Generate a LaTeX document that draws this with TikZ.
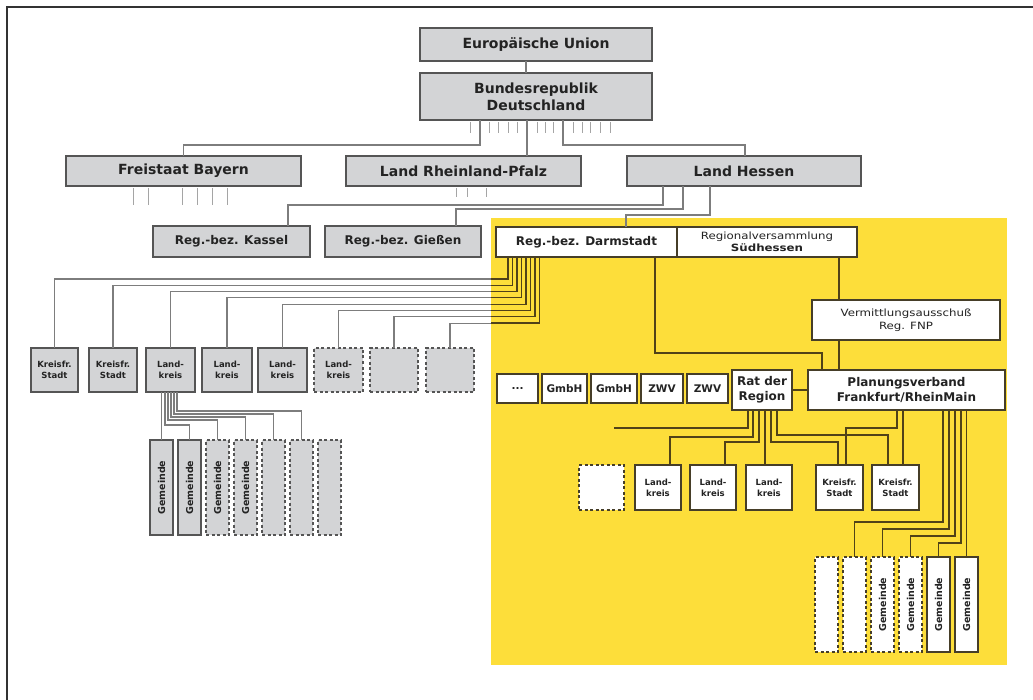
\documentclass[tikz,border=0pt]{standalone}
\usepackage{fontspec}
\usepackage{graphicx}
\setmainfont{DejaVu Sans}
\newfontfamily\wfont[FakeStretch=1.18]{DejaVu Sans}
\usetikzlibrary{shadows}
\definecolor{ylw}{RGB}{253,222,58}
\definecolor{boxgray}{RGB}{211,212,214}
\definecolor{edgegray}{RGB}{85,85,85}
\definecolor{lgray}{RGB}{125,125,125}
\definecolor{tickgray}{RGB}{165,165,165}
\definecolor{dline}{RGB}{80,66,24}
\definecolor{wedge}{RGB}{70,62,40}
\definecolor{txt}{RGB}{35,35,35}
\newcommand\bx[7]{\node[#6, minimum width={#4-#2}, minimum height={#5-#3}] (#1) at ({(#2+#4)/2},{(#3+#5)/2}) {#7};}
\tikzset{
  basebox/.style={inner sep=0pt, outer sep=0pt, align=center, text=txt},
  gbox/.style={basebox, draw=edgegray, fill=boxgray, line width=1.1pt,
    drop shadow={shadow xshift=1.3pt, shadow yshift=-1.3pt, fill=black!60, opacity=0.8}},
  gdash/.style={basebox, draw=edgegray, fill=boxgray, line width=1.1pt, dash pattern=on 3pt off 2.5pt},
  wbox/.style={basebox, draw=wedge, fill=white, line width=1.3pt,
    drop shadow={shadow xshift=1.2pt, shadow yshift=-1.2pt, fill=black!55, opacity=0.6}},
  wdash/.style={basebox, draw=wedge, fill=white, line width=1.3pt, dash pattern=on 3pt off 2.5pt},
  fbig/.style={font=\bfseries\fontsize{14}{17}\selectfont},
  fmid/.style={font=\bfseries\fontsize{12}{15}\selectfont},
  fgm/.style={font=\bfseries\fontsize{10.5}{12}\selectfont},
  fsm/.style={font=\bfseries\fontsize{8.5}{11}\selectfont},
  fgem/.style={font=\bfseries\fontsize{9.5}{11}\selectfont},
  fwide/.style={font=\wfont\fontsize{10}{13}\selectfont},
  gl/.style={draw=lgray, line width=1.1pt},
  tk/.style={draw=tickgray, line width=1pt},
  dl/.style={draw=dline, line width=1.5pt},
}
\begin{document}
\begin{tikzpicture}[x=1pt,y=-1pt]
\useasboundingbox (0,0) rectangle (1033,700);
% yellow region
\fill[ylw] (491,218) rectangle (1007,665);
% frame
\draw[line width=2pt, black!80] (7,700) -- (7,7) -- (1033,7);

% top level boxes
\bx{eu}{420}{28}{652}{61}{gbox,fbig}{Europäische Union}
\bx{brd}{420}{73}{652}{120}{gbox,fbig}{Bundesrepublik\\Deutschland}
\bx{bay}{66}{156}{301}{186}{gbox,fbig}{Freistaat Bayern}
\bx{rlp}{346}{156}{581}{186}{gbox,fbig}{Land Rheinland-Pfalz}
\bx{hes}{627}{156}{861}{186}{gbox,fbig}{Land Hessen}
\bx{kas}{153}{226}{310}{257}{gbox,fmid}{Reg.-bez. Kassel}
\bx{gie}{325}{226}{481}{257}{gbox,fmid}{Reg.-bez. Gießen}
\bx{dar}{496}{227}{677}{257}{wbox,fmid}{Reg.-bez. Darmstadt}
\bx{rvs}{677}{227}{857}{257}{wbox,font=\wfont\fontsize{10}{12}\selectfont}{Regionalversammlung\\{\bfseries Südhessen}}
\bx{vma}{812}{300}{1000}{340}{wbox,fwide}{Vermittlungsausschuß\\Reg. FNP}

% yellow row
\bx{dots}{497}{374}{538}{403}{wbox,fgm}{...}
\bx{g1}{542}{374}{587}{403}{wbox,fgm}{GmbH}
\bx{g2}{591}{374}{637}{403}{wbox,fgm}{GmbH}
\bx{z1}{641}{374}{683}{403}{wbox,fgm}{ZWV}
\bx{z2}{687}{374}{728}{403}{wbox,fgm}{ZWV}
\bx{rat}{732}{370}{792}{410}{wbox,fmid}{Rat der\\Region}
\bx{plv}{808}{370}{1005}{410}{wbox,fmid}{Planungsverband\\Frankfurt/RheinMain}

% left gray row
\bx{ks1}{31}{348}{78}{392}{gbox,fsm}{Kreisfr.\\Stadt}
\bx{ks2}{89}{348}{137}{392}{gbox,fsm}{Kreisfr.\\Stadt}
\bx{lk1}{146}{348}{195}{392}{gbox,fsm}{Land-\\kreis}
\bx{lk2}{202}{348}{252}{392}{gbox,fsm}{Land-\\kreis}
\bx{lk3}{258}{348}{307}{392}{gbox,fsm}{Land-\\kreis}
\bx{lk4}{314}{348}{363}{392}{gdash,fsm}{Land-\\kreis}
\bx{e1}{370}{348}{418}{392}{gdash}{}
\bx{e2}{426}{348}{474}{392}{gdash}{}

% left Gemeinden
\bx{gl0}{150}{440}{173}{535}{gbox,fgem}{\rotatebox{90}{Gemeinde}}
\bx{gl1}{178}{440}{201}{535}{gbox,fgem}{\rotatebox{90}{Gemeinde}}
\bx{gl2}{206}{440}{229}{535}{gdash,fgem}{\rotatebox{90}{Gemeinde}}
\bx{gl3}{234}{440}{257}{535}{gdash,fgem}{\rotatebox{90}{Gemeinde}}
\bx{gl4}{262}{440}{285}{535}{gdash}{}
\bx{gl5}{290}{440}{313}{535}{gdash}{}
\bx{gl6}{318}{440}{341}{535}{gdash}{}

% right row
\bx{rd}{579}{465}{624}{510}{wdash}{}
\bx{rl1}{635}{465}{681}{510}{wbox,fsm}{Land-\\kreis}
\bx{rl2}{690}{465}{736}{510}{wbox,fsm}{Land-\\kreis}
\bx{rl3}{746}{465}{792}{510}{wbox,fsm}{Land-\\kreis}
\bx{rk1}{816}{465}{863}{510}{wbox,fsm}{Kreisfr.\\Stadt}
\bx{rk2}{872}{465}{919}{510}{wbox,fsm}{Kreisfr.\\Stadt}

% right Gemeinden
\bx{gr0}{815}{557}{838}{652}{wdash}{}
\bx{gr1}{843}{557}{866}{652}{wdash}{}
\bx{gr2}{871}{557}{894}{652}{wdash,fgem}{\rotatebox{90}{Gemeinde}}
\bx{gr3}{899}{557}{922}{652}{wdash,fgem}{\rotatebox{90}{Gemeinde}}
\bx{gr4}{927}{557}{950}{652}{wbox,fgem}{\rotatebox{90}{Gemeinde}}
\bx{gr5}{955}{557}{978}{652}{wbox,fgem}{\rotatebox{90}{Gemeinde}}

% ---- gray connectors (upper part)
\draw[gl] ([xshift=106]eu.south west) -- ([xshift=106]brd.north west);
\foreach \x in {470,489,498,508,517,537,545,553,573,582,590,600,610}
  \draw[tk] (\x,122) -- (\x,133);
\draw[gl] ([xshift=60]brd.south west) |- ([yshift=11]bay.north) -- (bay.north);
\draw[gl] ([xshift=107]brd.south west) -- ([xshift=181]rlp.north west);
\draw[gl] ([xshift=143]brd.south west) |- ([xshift=118,yshift=11]hes.north west) -- ([xshift=118]hes.north west);
\foreach \x in {133,148,182,197,212,227}
  \draw[tk] (\x,188) -- (\x,205);
\foreach \x in {456,467,486}
  \draw[tk] (\x,188) -- (\x,197);
\draw[gl] ([xshift=36]hes.south west) |- ([xshift=135,yshift=21]kas.north west) -- ([xshift=135]kas.north west);
\draw[gl] ([xshift=56]hes.south west) |- ([xshift=131,yshift=17]gie.north west) -- ([xshift=131]gie.north west);
\draw[gl] ([xshift=83]hes.south west) |- ([xshift=130,yshift=12]dar.north west) -- ([xshift=130]dar.north west);

% Darmstadt bundle to the left row
\foreach \i/\t/\yy in {0/ks1/279,1/ks2/285.3,2/lk1/291.6,3/lk2/297.9,4/lk3/304.2,5/lk4/310.5,6/e1/316.8,7/e2/323.1}
  \draw[gl] ([xshift={12+4.5*\i}]dar.south west) |- (\t.north |- 0,\yy) -- (\t.north);
\begin{scope}
\clip (491,218) rectangle (1007,665);
\foreach \i/\t/\yy in {0/ks1/279,1/ks2/285.3,2/lk1/291.6,3/lk2/297.9,4/lk3/304.2,5/lk4/310.5,6/e1/316.8,7/e2/323.1}
  \draw[dl, line width=1.2pt] ([xshift={12+4.5*\i}]dar.south west) |- (\t.north |- 0,\yy) -- (\t.north);
\end{scope}

% Landkreis bundle to left Gemeinden
\draw[gl, line width=1.4pt] (gl0.north |- lk1.south) -- (gl0.north);
\foreach \i/\s/\yy in {1/19/425,2/22/420,3/25/417,4/28/414,5/31/411}
  \draw[gl, line width=1.4pt] ([xshift=\s]lk1.south west) |- (gl\i.north |- 0,\yy) -- (gl\i.north);

% ---- dark connectors in yellow region
\draw[dl] ([xshift=162]rvs.south west) -- ([xshift=27]vma.north west);
\draw[dl] ([xshift=27]vma.south west) -- ([xshift=31]plv.north west);
\draw[dl] ([xshift=159]dar.south west) |- ([xshift=14,yshift=17]plv.north west) -- ([xshift=14]plv.north west);
\draw[dl] (rat.east) -- (rat.east -| plv.west);
\coordinate (ratend) at (614,428);
\draw[dl] ([xshift=16]rat.south west) |- (ratend);
\draw[dl] ([xshift=21]rat.south west) |- ([xshift=35,yshift=28]rl1.north west) -- ([xshift=35]rl1.north west);
\draw[dl] ([xshift=27]rat.south west) |- ([xshift=35,yshift=23]rl2.north west) -- ([xshift=35]rl2.north west);
\draw[dl] ([xshift=33]rat.south west) -- ([xshift=19]rl3.north west);
\draw[dl] ([xshift=39]rat.south west) |- ([xshift=22,yshift=23]rk1.north west) -- ([xshift=22]rk1.north west);
\draw[dl] ([xshift=45]rat.south west) |- ([xshift=16,yshift=30]rk2.north west) -- ([xshift=16]rk2.north west);
\draw[dl] ([xshift=89]plv.south west) |- ([xshift=30,yshift=37]rk1.north west) -- ([xshift=30]rk1.north west);
\draw[dl] ([xshift=95]plv.south west) -- ([xshift=31]rk2.north west);
\foreach \i/\s/\yy in {1/135/522,2/141/529,3/147/536,4/153/543}
  \draw[dl] ([xshift=\s]plv.south west) |- (gr\i.north |- 0,\yy) -- (gr\i.north);
\draw[dl] (gr5.north |- plv.south) -- (gr5.north);
\end{tikzpicture}
\end{document}
